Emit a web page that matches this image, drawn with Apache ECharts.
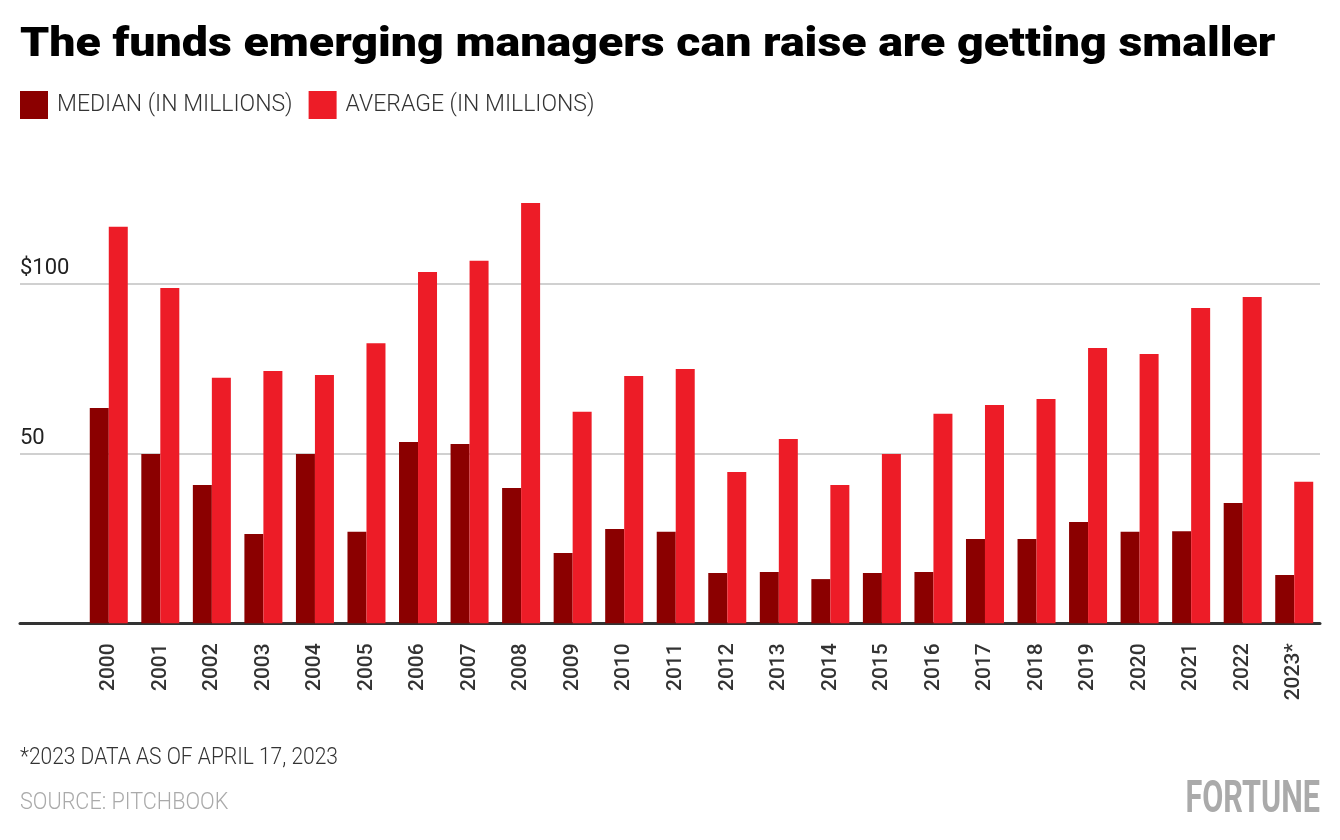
<!DOCTYPE html>
<html>
<head>
<meta charset="utf-8">
<script src="https://cdn.jsdelivr.net/npm/echarts@6/dist/echarts.min.js"></script>
<style>
html,body{margin:0;padding:0;background:#fff;}
#c{width:1340px;height:840px;}
</style>
</head>
<body>
<div id="c"></div>
<script>
const years = ['2000','2001','2002','2003','2004','2005','2006','2007','2008','2009','2010','2011','2012','2013','2014','2015','2016','2017','2018','2019','2020','2021','2022','2023*'];
const median = [63.3,49.8,40.7,26.3,49.8,26.9,53.3,52.7,39.8,20.7,27.7,26.9,14.8,15.1,13.0,14.8,15.1,24.8,24.8,29.8,26.9,27.1,35.4,14.2];
const average = [116.6,98.6,72.2,74.2,73.0,82.4,103.3,106.6,123.6,62.2,72.7,74.8,44.5,54.2,40.7,49.8,61.6,64.2,66.0,81.0,79.2,92.7,96.0,41.6];
const yTickLabels = {50:'50', 100:'$100'};
const seriesNames = ['MEDIAN (IN MILLIONS)','AVERAGE (IN MILLIONS)'];
const titleText = 'The funds emerging managers can raise are getting smaller';
const noteText = '*2023 DATA AS OF APRIL 17, 2023';
const sourceText = 'SOURCE: PITCHBOOK';
const brandText = 'FORTUNE';

const chart = echarts.init(document.getElementById('c'), null, {renderer:'canvas'});
const gridTop = 113.3, gridBottom = 216.7;
chart.setOption({
  backgroundColor:'#fff',
  animation:false,
  legend:{
    left:20, top:91, padding:0, itemWidth:28, itemHeight:28, itemGap:16, icon:'rect',
    data:seriesNames,
    textStyle:{fontFamily:'Roboto', fontSize:23, fontWeight:300, color:'#333', padding:[0,0,0,4]}
  },
  grid:[
    {left:83, right:20, top:gridTop, bottom:gridBottom, containLabel:false},
    {left:20, right:20, top:gridTop, bottom:gridBottom, containLabel:false}
  ],
  xAxis:[
    {type:'category', gridIndex:0, data:years,
     axisLine:{show:false}, axisTick:{show:false},
     axisLabel:{rotate:90, margin:20, fontFamily:'Roboto', fontSize:21, fontWeight:500, color:'#333', interval:0}},
    {type:'value', gridIndex:1, min:0, max:1, show:true,
     axisLine:{show:true, onZero:false, lineStyle:{color:'#333', width:3}},
     axisTick:{show:false}, axisLabel:{show:false}, splitLine:{show:false}}
  ],
  yAxis:[
    {type:'value', gridIndex:0, min:0, max:150, interval:50, show:false},
    {type:'value', gridIndex:1, min:0, max:150, interval:50,
     axisLine:{show:false}, axisTick:{show:false},
     splitLine:{show:true, lineStyle:{color:['transparent','#d0d0d0','#d0d0d0','transparent'], width:2}},
     axisLabel:{inside:true, margin:0, align:'left', verticalAlign:'bottom', padding:[0,0,4,0],
       fontFamily:'Roboto', fontSize:22, fontWeight:400, color:'#222',
       formatter:function(v){return yTickLabels[v] || '';}}}
  ],
  series:[
    {name:seriesNames[0], type:'bar', xAxisIndex:0, yAxisIndex:0, data:median,
     barWidth:19, barGap:'0%', itemStyle:{color:'#8b0000'}, z:3},
    {name:seriesNames[1], type:'bar', xAxisIndex:0, yAxisIndex:0, data:average,
     barWidth:19, barGap:'0%', itemStyle:{color:'#ed1c27'}, z:3}
  ],
  graphic:[
    {type:'text', x:20, y:25, scaleX:1.134, style:{text:titleText, fontFamily:'Roboto', fontSize:41, fontWeight:900, fill:'#000', textVerticalAlign:'top'}},
    {type:'text', x:20, y:746, scaleX:0.875, style:{text:noteText, fontFamily:'Roboto', fontSize:24, fontWeight:300, fill:'#333', textVerticalAlign:'top'}},
    {type:'text', x:20, y:791, scaleX:0.9, style:{text:sourceText, fontFamily:'Roboto', fontSize:24, fontWeight:300, fill:'#aaa', textVerticalAlign:'top'}},
    {type:'text', x:1320, y:778, scaleX:0.68, style:{text:brandText, fontFamily:'Roboto', fontSize:45, fontWeight:700, fill:'#aaa', textAlign:'right', textVerticalAlign:'top'}}
  ]
});
</script>
</body>
</html>
